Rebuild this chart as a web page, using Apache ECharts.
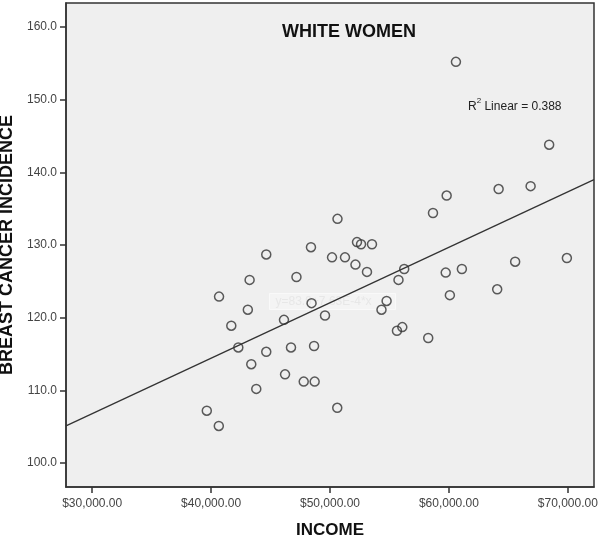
<!doctype html>
<html lang="en">
  <head>
    <meta charset="utf-8">
    <title>White Women</title>
    <script src="https://cdn.jsdelivr.net/npm/echarts@6.0.0/dist/echarts.min.js"></script>
    <style>
      html, body {
        width: 100%;
        height: 100%;
        margin: 0;
        background: #fff;
      }

      #chart {
        width: 600px;
        height: 537px;
      }
    </style>
  </head>
  <body>
    <div id="chart"></div>
    <script>
      // income ($) and breast cancer incidence
      const income = [
        60590, 68430, 59810, 64180, 66870, 58660, 50630, 52270, 52610, 53530,
        48400, 44640, 50170, 51260, 52140, 53110, 56240, 55760, 59730, 61090,
        65570, 69920, 43240, 47180, 40670, 43090, 48450, 54760, 54330, 49580,
        46130, 41700, 60080, 64060, 55630, 56080, 58260, 42290, 44640, 46720,
        48660, 43380, 46220, 47790, 48710, 43800, 39640, 40650, 50610
      ];
      const incidence = [
        155.2, 143.8, 136.8, 137.7, 138.1, 134.4, 133.6, 130.4, 130.1, 130.1,
        129.7, 128.7, 128.3, 128.3, 127.3, 126.3, 126.7, 125.2, 126.2, 126.7,
        127.7, 128.2, 125.2, 125.6, 122.9, 121.1, 122.0, 122.3, 121.1, 120.3,
        119.7, 118.9, 123.1, 123.9, 118.2, 118.7, 117.2, 115.9, 115.3, 115.9,
        116.1, 113.6, 112.2, 111.2, 111.2, 110.2, 107.2, 105.1, 107.6
      ];
      // fit line end points at the plot edges
      const fitX = [27800, 72200];
      const fitY = [105.1, 139.0];
      const xTicks = [30000, 40000, 50000, 60000, 70000];
      const yTicks = [100, 110, 120, 130, 140, 150, 160];

      let chart = echarts.init(document.getElementById('chart'), null, {renderer: 'canvas'});

      let points = income.map((v, i) => [v, incidence[i]]);
      let fit = fitX.map((v, i) => [v, fitY[i]]);

      let option = {
        animation: false,
        backgroundColor: '#fff',
        textStyle: {
          fontFamily: 'Liberation Sans, Arial, sans-serif'
        },
        grid: {
          left: 66,
          right: 6,
          top: 3,
          bottom: 50,
          outerBoundsMode: 'none',
          containLabel: false,
          show: true,
          backgroundColor: '#efefef',
          borderColor: '#333',
          borderWidth: 1.5
        },
        xAxis: {
          type: 'value',
          min: 27800,
          max: 72200,
          name: 'INCOME',
          nameLocation: 'middle',
          nameGap: 35,
          nameTextStyle: {
            fontSize: 17,
            fontWeight: 'bold',
            color: '#111'
          },
          splitLine: { show: false },
          axisLine: { show: true, lineStyle: { color: '#333', width: 1.5 } },
          axisTick: {
            show: true,
            length: 6,
            customValues: xTicks,
            lineStyle: { color: '#333', width: 1.5 }
          },
          axisLabel: {
            customValues: xTicks,
            color: '#444',
            fontSize: 12,
            margin: 11,
            hideOverlap: false,
            formatter: (value) => '$' + value.toLocaleString('en-US') + '.00'
          }
        },
        yAxis: {
          type: 'value',
          min: 96.7,
          max: 163.3,
          name: 'BREAST CANCER INCIDENCE',
          nameLocation: 'middle',
          nameGap: 41,
          nameTextStyle: {
            fontSize: 18,
            fontWeight: 'bold',
            color: '#111'
          },
          splitLine: { show: false },
          axisLine: { show: true, lineStyle: { color: '#333', width: 1.5 } },
          axisTick: {
            show: true,
            length: 6,
            customValues: yTicks,
            lineStyle: { color: '#333', width: 1.5 }
          },
          axisLabel: {
            customValues: yTicks,
            color: '#444',
            fontSize: 12,
            margin: 9,
            formatter: (value) => value.toFixed(1)
          }
        },
        graphic: [
          {
            type: 'text',
            left: 282,
            top: 23,
            style: {
              text: 'WHITE WOMEN',
              fontSize: 18,
              fontWeight: 'bold',
              fill: '#111',
              fontFamily: 'Liberation Sans, Arial, sans-serif'
            }
          },
          {
            type: 'text',
            left: 468,
            top: 97,
            style: {
              text: '{a|R}{s|2}{a| Linear = 0.388}',
              fontFamily: 'Liberation Sans, Arial, sans-serif',
              rich: {
                a: { fontSize: 12, fill: '#222', verticalAlign: 'bottom', lineHeight: 16 },
                s: { fontSize: 8, fill: '#222', verticalAlign: 'top', lineHeight: 16 }
              }
            }
          },
          {
            type: 'group',
            left: 269,
            top: 293,
            z: 0,
            children: [
              {
                type: 'rect',
                shape: { x: 0, y: 0, width: 126, height: 16 },
                style: { fill: 'rgba(255,255,255,0.3)', stroke: 'rgba(255,255,255,0.6)' }
              },
              {
                type: 'text',
                x: 6,
                y: 2,
                style: {
                  text: 'y=83.9+7.63E-4*x',
                  fontSize: 12,
                  fill: 'rgba(230,230,230,0.9)',
                  fontFamily: 'Liberation Sans, Arial, sans-serif'
                }
              }
            ]
          }
        ],
        series: [
          {
            type: 'line',
            data: fit,
            symbol: 'none',
            z: 3,
            lineStyle: { color: '#333', width: 1.3 }
          },
          {
            type: 'scatter',
            data: points,
            symbol: 'circle',
            symbolSize: 9,
            z: 4,
            itemStyle: {
              color: 'rgba(0,0,0,0)',
              borderColor: '#333',
              borderWidth: 1.5
            }
          }
        ]
      };

      chart.setOption(option);

      window.addEventListener('resize', () => {
        chart.resize();
      });
    </script>
  </body>
</html>
